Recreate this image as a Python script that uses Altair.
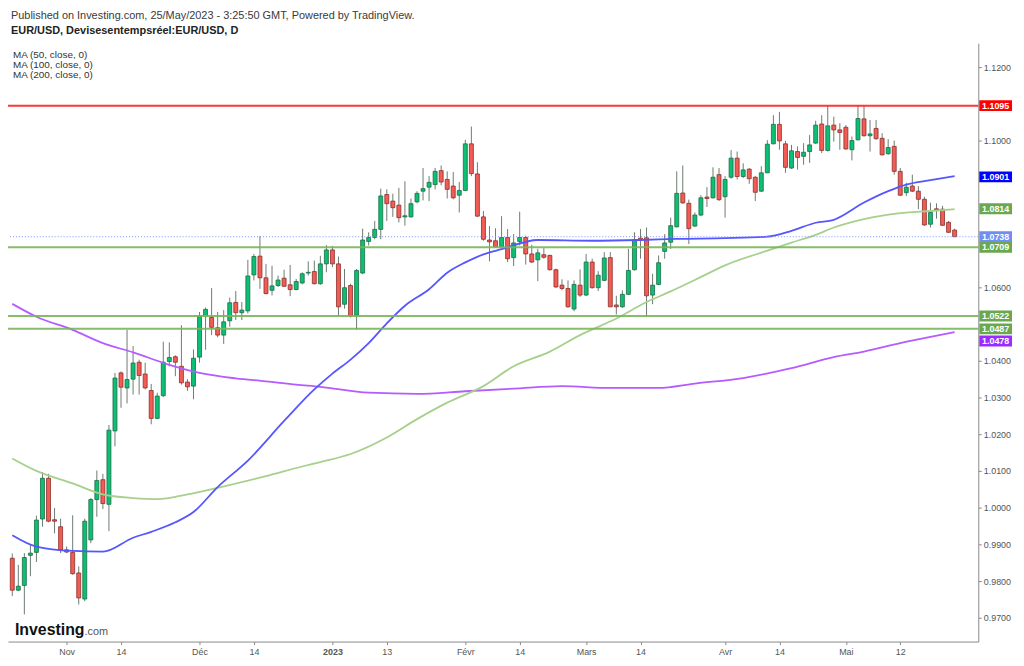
import altair as alt
import pandas as pd

# daily candles, EUR/USD, 19 Oct 2022 -> 25 May 2023 (index = trading day)
opens = [
    0.9862, 0.9775, 0.9788, 0.9870, 0.9878, 0.9969, 1.0080, 0.9967, 0.9948, 0.9885,
    0.9878, 0.9822, 0.9751, 0.9912, 1.0022, 1.0076, 1.0009, 1.0209, 1.0367, 1.0326,
    1.0350, 1.0396, 1.0364, 1.0319, 1.0243, 1.0305, 1.0398, 1.0411, 1.0385, 1.0342,
    1.0331, 1.0410, 1.0522, 1.0518, 1.0490, 1.0470, 1.0509, 1.0559, 1.0531, 1.0536,
    1.0634, 1.0685, 1.0626, 1.0592, 1.0605, 1.0625, 1.0607, 1.0594, 1.0612, 1.0639,
    1.0643, 1.0610, 1.0664, 1.0702, 1.0664, 1.0554, 1.0605, 1.0524, 1.0639, 1.0725,
    1.0736, 1.0758, 1.0853, 1.0835, 1.0824, 1.0792, 1.0792, 1.0833, 1.0862, 1.0873,
    1.0880, 1.0918, 1.0894, 1.0876, 1.0851, 1.0864, 1.0991, 1.0909, 1.0792, 1.0729,
    1.0727, 1.0711, 1.0736, 1.0681, 1.0725, 1.0736, 1.0691, 1.0675, 1.0689, 1.0687,
    1.0648, 1.0606, 1.0597, 1.0541, 1.0606, 1.0579, 1.0669, 1.0599, 1.0619, 1.0681,
    1.0552, 1.0547, 1.0581, 1.0648, 1.0734, 1.0735, 1.0579, 1.0608, 1.0698, 1.0723,
    1.0765, 1.0857, 1.0829, 1.0767, 1.0797, 1.0846, 1.0844, 1.0907, 1.0847, 1.0900,
    1.0952, 1.0902, 1.0922, 1.0900, 1.0862, 1.0912, 1.0991, 1.1044, 1.0991, 1.0925,
    1.0970, 1.0957, 1.0970, 1.0993, 1.1045, 1.0973, 1.1042, 1.1029, 1.1036, 1.0975,
    1.1002, 1.1059, 1.1013, 1.1033, 1.1006, 1.0964, 1.0984, 1.0916, 1.0858, 1.0876,
    1.0862, 1.0840, 1.0772, 1.0814, 1.0813, 1.0777, 1.0756,
]
highs = [
    0.9875, 0.9844, 0.9876, 0.9900, 0.9978, 1.0097, 1.0092, 0.9999, 0.9970, 0.9894,
    0.9979, 0.9840, 0.9970, 1.0026, 1.0101, 1.0092, 1.0225, 1.0367, 1.0371, 1.0484,
    1.0440, 1.0403, 1.0395, 1.0337, 1.0313, 1.0452, 1.0450, 1.0415, 1.0497, 1.0350,
    1.0431, 1.0533, 1.0545, 1.0598, 1.0533, 1.0538, 1.0572, 1.0590, 1.0560, 1.0675,
    1.0691, 1.0740, 1.0664, 1.0659, 1.0632, 1.0648, 1.0661, 1.0623, 1.0641, 1.0671,
    1.0673, 1.0686, 1.0715, 1.0713, 1.0684, 1.0650, 1.0610, 1.0650, 1.0760, 1.0750,
    1.0781, 1.0869, 1.0867, 1.0855, 1.0871, 1.0889, 1.0842, 1.0862, 1.0925, 1.0903,
    1.0925, 1.0932, 1.0916, 1.0914, 1.0887, 1.1002, 1.1038, 1.0941, 1.0808, 1.0767,
    1.0761, 1.0794, 1.0759, 1.0745, 1.0806, 1.0741, 1.0716, 1.0705, 1.0707, 1.0689,
    1.0651, 1.0622, 1.0619, 1.0619, 1.0649, 1.0691, 1.0678, 1.0644, 1.0696, 1.0696,
    1.0577, 1.0592, 1.0705, 1.0750, 1.0759, 1.0763, 1.0637, 1.0687, 1.0745, 1.0790,
    1.0916, 1.0932, 1.0839, 1.0804, 1.0851, 1.0873, 1.0927, 1.0925, 1.0903, 1.0974,
    1.0970, 1.0938, 1.0925, 1.0903, 1.0930, 1.1001, 1.1069, 1.1078, 1.0999, 1.0988,
    1.0984, 1.0993, 1.1015, 1.1054, 1.1069, 1.1094, 1.1065, 1.1047, 1.1042, 1.1011,
    1.1094, 1.1094, 1.1056, 1.1056, 1.1020, 1.1004, 1.1000, 1.0925, 1.0885, 1.0907,
    1.0876, 1.0847, 1.0831, 1.0829, 1.0822, 1.0781, 1.0760,
]
lows = [
    0.9759, 0.9772, 0.9709, 0.9813, 0.9852, 0.9948, 0.9960, 0.9930, 0.9876, 0.9876,
    0.9817, 0.9736, 0.9745, 0.9903, 0.9975, 0.9996, 0.9936, 1.0167, 1.0272, 1.0284,
    1.0308, 1.0308, 1.0322, 1.0227, 1.0241, 1.0301, 1.0385, 1.0358, 1.0335, 1.0318,
    1.0295, 1.0395, 1.0430, 1.0470, 1.0464, 1.0446, 1.0493, 1.0511, 1.0511, 1.0529,
    1.0619, 1.0596, 1.0581, 1.0578, 1.0601, 1.0601, 1.0576, 1.0592, 1.0608, 1.0632,
    1.0608, 1.0607, 1.0641, 1.0655, 1.0521, 1.0542, 1.0518, 1.0484, 1.0636, 1.0714,
    1.0731, 1.0731, 1.0781, 1.0792, 1.0777, 1.0768, 1.0790, 1.0829, 1.0837, 1.0835,
    1.0867, 1.0878, 1.0842, 1.0840, 1.0804, 1.0862, 1.0903, 1.0792, 1.0727, 1.0671,
    1.0709, 1.0709, 1.0669, 1.0658, 1.0714, 1.0662, 1.0666, 1.0617, 1.0678, 1.0646,
    1.0599, 1.0592, 1.0545, 1.0535, 1.0574, 1.0577, 1.0597, 1.0590, 1.0617, 1.0547,
    1.0526, 1.0544, 1.0579, 1.0646, 1.0678, 1.0520, 1.0554, 1.0606, 1.0678, 1.0705,
    1.0763, 1.0828, 1.0718, 1.0765, 1.0794, 1.0819, 1.0842, 1.0835, 1.0790, 1.0896,
    1.0894, 1.0898, 1.0882, 1.0835, 1.0860, 1.0912, 1.0990, 1.0975, 1.0912, 1.0923,
    1.0921, 1.0934, 1.0939, 1.0991, 1.0966, 1.0970, 1.0997, 1.0975, 1.0975, 1.0946,
    1.1000, 1.1011, 1.0970, 1.1002, 1.0959, 1.0961, 1.0907, 1.0849, 1.0849, 1.0860,
    1.0813, 1.0768, 1.0763, 1.0787, 1.0768, 1.0748, 1.0738,
]
closes = [
    0.9775, 0.9786, 0.9864, 0.9876, 0.9966, 1.0080, 0.9963, 0.9963, 0.9885, 0.9879,
    0.9820, 0.9754, 0.9963, 1.0022, 1.0074, 1.0011, 1.0211, 1.0353, 1.0328, 1.0349,
    1.0394, 1.0360, 1.0326, 1.0243, 1.0304, 1.0396, 1.0409, 1.0396, 1.0340, 1.0329,
    1.0407, 1.0522, 1.0540, 1.0491, 1.0470, 1.0506, 1.0558, 1.0531, 1.0538, 1.0631,
    1.0684, 1.0626, 1.0583, 1.0604, 1.0620, 1.0603, 1.0594, 1.0616, 1.0637, 1.0641,
    1.0610, 1.0664, 1.0702, 1.0664, 1.0547, 1.0599, 1.0522, 1.0646, 1.0729, 1.0736,
    1.0758, 1.0849, 1.0828, 1.0817, 1.0790, 1.0795, 1.0828, 1.0856, 1.0869, 1.0886,
    1.0916, 1.0887, 1.0867, 1.0844, 1.0864, 1.0991, 1.0910, 1.0794, 1.0731, 1.0724,
    1.0711, 1.0736, 1.0678, 1.0721, 1.0736, 1.0691, 1.0669, 1.0694, 1.0682, 1.0648,
    1.0601, 1.0597, 1.0547, 1.0608, 1.0579, 1.0669, 1.0599, 1.0633, 1.0680, 1.0547,
    1.0547, 1.0581, 1.0646, 1.0730, 1.0730, 1.0577, 1.0606, 1.0667, 1.0721, 1.0768,
    1.0856, 1.0830, 1.0760, 1.0797, 1.0844, 1.0842, 1.0900, 1.0839, 1.0894, 1.0952,
    1.0902, 1.0920, 1.0896, 1.0859, 1.0912, 1.0990, 1.1044, 1.0999, 1.0927, 1.0972,
    1.0954, 1.0968, 1.0988, 1.1042, 1.0973, 1.1040, 1.1029, 1.1022, 1.0977, 1.1000,
    1.1060, 1.1013, 1.1018, 1.1005, 1.0961, 1.0981, 1.0916, 1.0851, 1.0873, 1.0862,
    1.0840, 1.0770, 1.0804, 1.0811, 1.0769, 1.0750, 1.0738,
]

# moving averages (index, value)
ma50_idx = [0, 4, 10, 15, 20, 23, 27, 30, 34, 39, 45, 50, 53, 56, 59, 62, 65, 69,
            72, 75, 78, 81, 87, 96, 104, 110, 118, 125, 129, 133, 136, 141, 145,
            148, 152, 156]
ma50_val = [0.9925, 0.9894, 0.9882, 0.9880, 0.9918, 0.9934, 0.9960, 0.9988, 1.0056,
            1.0128, 1.0236, 1.0322, 1.0365, 1.0403, 1.0448, 1.0502, 1.0550, 1.0595,
            1.0640, 1.0668, 1.0690, 1.0704, 1.0729, 1.0727, 1.0729, 1.0732, 1.0734,
            1.0738, 1.0754, 1.0776, 1.0784, 1.0831, 1.0862, 1.0880, 1.0892, 1.0903]

ma100_idx = [0, 4, 10, 15, 20, 24, 29, 34, 42, 48, 51, 56, 62, 67, 72, 78, 83, 89,
             94, 100, 105, 109, 113, 118, 125, 129, 133, 136, 141, 147, 152, 156]
ma100_val = [1.0134, 1.0100, 1.0066, 1.0036, 1.0026, 1.0023, 1.0036, 1.0054, 1.0086,
             1.0112, 1.0124, 1.0146, 1.0191, 1.0241, 1.0286, 1.0331, 1.0385, 1.0425,
             1.0470, 1.0515, 1.0560, 1.0589, 1.0620, 1.0660, 1.0700, 1.0722, 1.0743,
             1.0763, 1.0786, 1.0802, 1.0808, 1.0813]

ma200_idx = [0, 4, 10, 15, 20, 26, 31, 37, 42, 47, 51, 59, 67, 75, 83, 91, 99, 107,
             113, 121, 129, 136, 141, 147, 152, 156]
ma200_val = [1.0555, 1.0520, 1.0484, 1.0448, 1.0423, 1.0389, 1.0367, 1.0352, 1.0344,
             1.0335, 1.0329, 1.0313, 1.0310, 1.0317, 1.0324, 1.0331, 1.0326, 1.0326,
             1.0338, 1.0353, 1.0380, 1.0410, 1.0425, 1.0448, 1.0465, 1.0478]

# x-axis labels (trading-day index -> text)
tick_idx = [9, 18, 31, 40, 53, 62, 75, 84, 95, 104, 118, 127, 138, 147]
tick_txt = ["Nov", "14", "Déc", "14", "2023", "13", "Févr", "14", "Mars", "14",
            "Avr", "14", "Mai", "12"]

# price scale labels that are not hidden behind a tag
y_ticks = [0.97, 0.98, 0.99, 1.00, 1.01, 1.02, 1.03, 1.04, 1.06, 1.10, 1.12]

# drawn horizontal levels
level_vals = [1.1095, 1.0709, 1.0522, 1.0487]
level_cols = ["#ff2020", "#79b55a", "#79b55a", "#79b55a"]
last_price = 1.0738

# price tags on the right scale
tag_vals = [1.1095, 1.0901, 1.0814, 1.0738, 1.0709, 1.0522, 1.0487]
tag_cols = ["#ff0000", "#0000ff", "#6aa84f", "#6f8df2", "#6aa84f", "#6aa84f", "#6aa84f"]
ma200_tag = 1.0478

UP, DOWN = "#0bbf74", "#f25c54"
FONT = "Liberation Sans"
W, H = 978, 603

df = pd.DataFrame({"i": range(len(opens)), "open": opens, "high": highs,
                   "low": lows, "close": closes})
df["dir"] = ["up" if c >= o else "down" for o, c in zip(opens, closes)]

label_expr = " : ".join(
    f"datum.value == {k} ? '{t}'" for k, t in zip(tick_idx, tick_txt)
) + " : ''"

xscale = alt.Scale(domain=[0.114, 159.1], nice=False, zero=False)
yscale = alt.Scale(domain=[0.963514, 1.126486], nice=False, zero=False)

xaxis = alt.Axis(values=tick_idx, labelExpr=label_expr, title=None, grid=False,
                 domainColor="#8a8a8a", tickColor="#8a8a8a", tickSize=3,
                 labelColor="#555555", labelFont=FONT, labelFontSize=9,
                 labelPadding=3, labelOverlap=False,
                 labelFontWeight={"condition": {"test": "datum.value == 53", "value": "bold"},
                                  "value": "normal"})
yaxis = alt.Axis(orient="right", values=y_ticks, format=".4f", title=None, grid=False,
                 domainColor="#8a8a8a", tickColor="#8a8a8a", tickSize=3,
                 labelColor="#555555", labelFont=FONT, labelFontSize=9, labelPadding=2,
                 labelOverlap=False)

base = alt.Chart(df)

wicks = base.mark_rule(color="#6c7a70", strokeWidth=1).encode(
    x=alt.X("i:Q", scale=xscale, axis=xaxis),
    y=alt.Y("low:Q", scale=yscale, axis=yaxis),
    y2="high:Q",
)
bodies = base.mark_bar(width=4, strokeWidth=0.8).encode(
    x=alt.X("i:Q", scale=xscale),
    y=alt.Y("open:Q", scale=yscale),
    y2="close:Q",
    color=alt.Color("dir:N", scale=alt.Scale(domain=["up", "down"], range=[UP, DOWN]),
                    legend=None),
    stroke=alt.Stroke("dir:N", scale=alt.Scale(domain=["up", "down"],
                                               range=["#1d6b45", "#8a2f2b"]),
                      legend=None),
)


def ma_line(idx, vals, col):
    d = pd.DataFrame({"i": idx, "v": vals})
    return alt.Chart(d).mark_line(color=col, strokeWidth=1.8, interpolate="monotone").encode(
        x=alt.X("i:Q", scale=xscale), y=alt.Y("v:Q", scale=yscale))


ma50 = ma_line(ma50_idx, ma50_val, "#5656ff")
ma100 = ma_line(ma100_idx, ma100_val, "#a6d08c")
ma200 = ma_line(ma200_idx, ma200_val, "#b45cff")

levels = alt.Chart(pd.DataFrame({"v": level_vals, "c": level_cols})).mark_rule(
    strokeWidth=2, opacity=0.9).encode(
    y=alt.Y("v:Q", scale=yscale), color=alt.Color("c:N", scale=None))

price_line = alt.Chart(pd.DataFrame({"v": [last_price]})).mark_rule(
    color="#7f92ff", strokeWidth=1, strokeDash=[1, 2]).encode(y=alt.Y("v:Q", scale=yscale))

tags_df = pd.DataFrame({"v": tag_vals, "c": tag_cols,
                        "t": [f"{v:.4f}" for v in tag_vals]})
tag_box = alt.Chart(tags_df).mark_rule(strokeWidth=11, strokeCap="butt").encode(
    y=alt.Y("v:Q", scale=yscale), x=alt.value(W + 1), x2=alt.value(W + 34),
    color=alt.Color("c:N", scale=None))
tag_txt = alt.Chart(tags_df).mark_text(
    color="white", font=FONT, fontSize=9, fontWeight="bold", align="center",
    baseline="middle").encode(y=alt.Y("v:Q", scale=yscale), x=alt.value(W + 17.5),
                               text="t:N")

ma200_df = pd.DataFrame({"v": [ma200_tag], "t": [f"{ma200_tag:.4f}"]})
ma200_box = alt.Chart(ma200_df).mark_rule(
    strokeWidth=11, strokeCap="butt", color="#9b2cff", yOffset=9).encode(
    y=alt.Y("v:Q", scale=yscale), x=alt.value(W + 1), x2=alt.value(W + 34))
ma200_txt = alt.Chart(ma200_df).mark_text(
    color="white", font=FONT, fontSize=9, fontWeight="bold", align="center",
    baseline="middle", dy=9).encode(y=alt.Y("v:Q", scale=yscale), x=alt.value(W + 17.5),
                                     text="t:N")


def label(txt, x, y, size, weight="normal", color="#333333"):
    return alt.Chart(pd.DataFrame({"t": [txt]})).mark_text(
        font=FONT, fontSize=size, fontWeight=weight, color=color, align="left",
        baseline="middle").encode(x=alt.value(x), y=alt.value(y), text="t:N")


texts = [
    label("Published on Investing.com, 25/May/2023 - 3:25:50 GMT, Powered by TradingView.",
          3, -27, 11, color="#3a3a3a"),
    label("EUR/USD, Devisesentempsréel:EUR/USD, D", 3, -12, 11, "bold", "#222222"),
    label("MA (50, close, 0)", 5, 12, 10),
    label("MA (100, close, 0)", 5, 22, 10),
    label("MA (200, close, 0)", 5, 32, 10),
    label("Investing", 7, 591, 16, "bold", "#111111"),
    label(".com", 77, 593, 11, "normal", "#555555"),
]

chart = alt.layer(
    wicks, bodies, ma200, ma100, ma50, levels, price_line,
    tag_box, tag_txt, ma200_box, ma200_txt, *texts
).properties(
    width=W, height=H,
    padding={"left": 0, "top": 33, "right": 38, "bottom": 14},
    autosize=alt.AutoSizeParams(type="none"),
    background="white",
).configure_view(stroke=None)

chart.save("out.html", embed_options={"renderer": "svg", "actions": False})
